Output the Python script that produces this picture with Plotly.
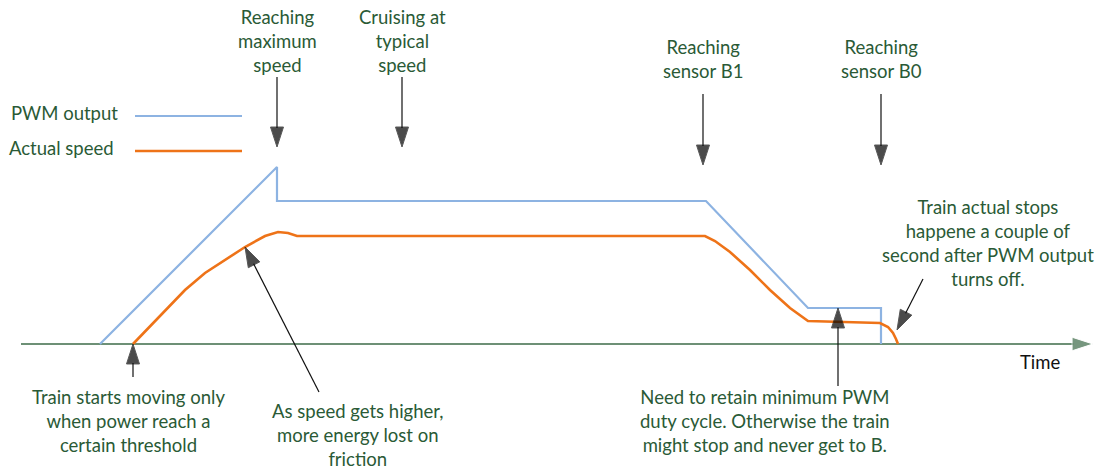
import plotly.graph_objects as go

# time axis units = horizontal position, values = height above the time axis
pwm_time = [100, 277, 277, 706, 808, 881, 881]
pwm_value = [0, 177, 143, 143, 36, 36, 0]

speed_time = [133, 160, 185, 205, 220, 245, 265, 278, 288, 297, 705, 715, 730,
              750, 770, 790, 808, 880, 888, 893, 896, 898]
speed_value = [0, 28, 54, 71, 81, 97, 108, 112, 111, 108, 108, 103, 92,
               74, 54, 36, 23, 21, 17, 11, 5, 0]

# callouts: text, text position, arrow tail, arrow tip
notes = [
    ("Reaching<br>maximum<br>speed", 277, 303, (277, 267), (277, 197)),
    ("Cruising at<br>typical<br>speed", 402, 303, (402, 267), (402, 197)),
    ("Reaching<br>sensor B1", 703, 285, (703, 250), (703, 179)),
    ("Reaching<br>sensor B0", 881, 285, (881, 250), (881, 179)),
    ("Train starts moving only<br>when power reach a<br>certain threshold", 128, -77, (133, -33), (133, 0)),
    ("As speed gets higher,<br>more energy lost on<br>friction", 358, -91, (319, -48), (245, 97)),
    ("Need to retain minimum PWM<br>duty cycle. Otherwise the train<br>might stop and never get to B.", 765, -77, (838, -42), (838, 36)),
    ("Train actual stops<br>happene a couple of<br>second after PWM output<br>turns off.", 988, 101, (923, 65), (897, 14)),
]

TEXT = "#2a5a36"
AXIS = "#3d6b48"
BLUE = "#8db3e2"
ORANGE = "#ee7318"
FONT = "Lato"
FS = 18.5

fig = go.Figure()

# time axis with arrow
fig.add_trace(go.Scatter(
    x=[21, 1093], y=[0, 0], mode="lines+markers",
    line=dict(color=AXIS, width=1.5),
    marker=dict(symbol="arrow", size=[0, 22], color=AXIS, angleref="previous"),
    hoverinfo="skip"))

fig.add_trace(go.Scatter(x=pwm_time, y=pwm_value, mode="lines",
                         line=dict(color=BLUE, width=2.2), name="PWM output"))
fig.add_trace(go.Scatter(x=speed_time, y=speed_value, mode="lines",
                         line=dict(color=ORANGE, width=2.6), name="Actual speed"))

for text, tx, ty, tail, tip in notes:
    fig.add_trace(go.Scatter(
        x=[tail[0], tip[0]], y=[tail[1], tip[1]], mode="lines+markers",
        line=dict(color="#111111", width=1.2),
        marker=dict(symbol="arrow", size=[0, 21], color="#000000", angleref="previous"),
        hoverinfo="skip"))
    fig.add_annotation(x=tx, y=ty, text=text, showarrow=False,
                       xanchor="center", yanchor="middle", align="center",
                       font=dict(family=FONT, size=FS, color=TEXT))

# hand-drawn legend
fig.add_shape(type="line", x0=135, x1=242, y0=228, y1=228, line=dict(color=BLUE, width=2.2))
fig.add_shape(type="line", x0=135, x1=242, y0=193, y1=193, line=dict(color=ORANGE, width=2.6))
fig.add_annotation(x=120, y=231, text="PWM output", showarrow=False, xanchor="right",
                   yanchor="middle", font=dict(family=FONT, size=FS, color=TEXT))
fig.add_annotation(x=116, y=196, text="Actual speed", showarrow=False, xanchor="right",
                   yanchor="middle", font=dict(family=FONT, size=FS, color=TEXT))
fig.add_annotation(x=1040, y=-18, text="Time", showarrow=False, xanchor="center",
                   yanchor="middle", font=dict(family=FONT, size=FS, color="#111111"))

# page body has an 8px margin, so the figure is 8px smaller and the ranges start there
fig.update_layout(
    width=1096, height=460,
    margin=dict(l=0, r=0, t=0, b=0),
    paper_bgcolor="white", plot_bgcolor="white",
    showlegend=False,
    xaxis=dict(range=[8, 1104], visible=False, fixedrange=True),
    yaxis=dict(range=[-124, 336], visible=False, fixedrange=True),
)

fig.write_html("out.html")
